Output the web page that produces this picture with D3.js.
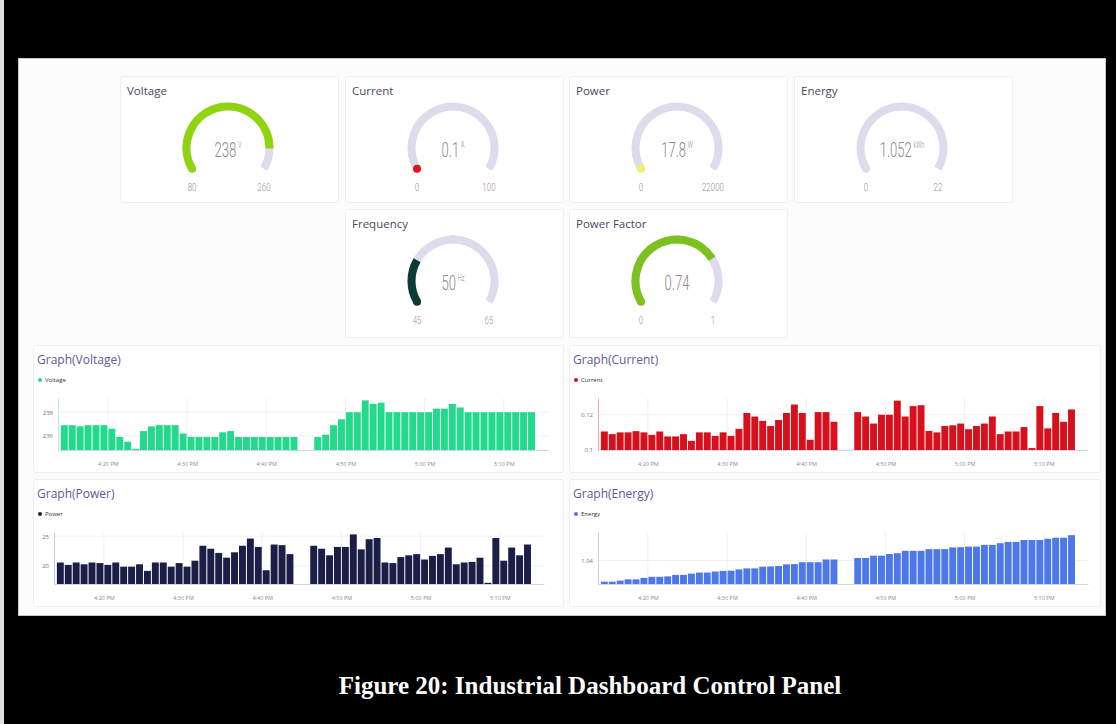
<!DOCTYPE html>
<html>
<head>
<meta charset="utf-8">
<script src="https://cdn.jsdelivr.net/npm/d3@7"></script>
<style>
  html, body { margin: 0; padding: 0; background: #000; }
  svg { display: block; font-family: "Open Sans", "Noto Sans", sans-serif; }
</style>
</head>
<body>
<svg id="dash" width="1116" height="724"></svg>
<script>
// Blynk-style power meter dashboard: 6 gauges + 4 minute bar charts.

// gauges
const gaugeTitles = ['Voltage', 'Current', 'Power', 'Energy', 'Frequency', 'Power Factor'];
const gaugeValues = [238, 0.1, 17.8, 1.052, 50, 0.74];
const gaugeMins   = [80, 0, 0, 0, 45, 0];
const gaugeMaxs   = [260, 100, 22000, 22, 65, 1];
const gaugeUnits  = ['V', 'A', 'W', 'kWh', 'Hz', ''];
const gaugeLabels = ['238', '0.1', '17.8', '1.052', '50', '0.74'];
const gaugeColors = ['#8fd40e', '#e8101c', '#eef06a', '#dcdcec', '#0d3a34', '#7dc11e'];

// x ticks of the graphs
const tickTimes = ['4:20 PM', '4:30 PM', '4:40 PM', '4:50 PM', '5:00 PM', '5:10 PM'];

// one value a minute, 4:14 PM .. 5:13 PM, no data at 4:44 and 4:45
const voltageValues = [236.9, 236.9, 236.8, 236.9, 236.9, 236.9, 236.6, 235.9, 235.5, 234.9,
  236.4, 236.8, 236.9, 236.9, 236.9, 236.2, 235.9, 235.9, 235.9, 235.9,
  236.3, 236.4, 235.9, 235.9, 235.9, 235.9, 235.9, 235.9, 235.9, 235.9,
  null, null,
  235.9, 236.1, 236.9, 237.4, 238, 238, 239, 238.7, 238.8, 238,
  238, 238, 238, 238, 238, 238.3, 238.3, 238.7, 238.4, 238,
  238, 238, 238, 238, 238, 238, 238, 238];
const currentValues = [0.1105, 0.109, 0.110, 0.110, 0.1107, 0.110, 0.1086, 0.1105, 0.1077, 0.1077,
  0.109, 0.1052, 0.110, 0.110, 0.108, 0.110, 0.108, 0.112, 0.121, 0.119,
  0.1165, 0.1136, 0.117, 0.121, 0.1258, 0.121, 0.1058, 0.1215, 0.1215, 0.116,
  null, null,
  0.1215, 0.119, 0.115, 0.120, 0.120, 0.128, 0.119, 0.1249, 0.1254, 0.1108,
  0.110, 0.1136, 0.114, 0.115, 0.1118, 0.1136, 0.115, 0.119, 0.109, 0.1105,
  0.1105, 0.113, 0.1011, 0.1249, 0.1123, 0.121, 0.116, 0.123];
const powerValues = [20.6, 20.2, 20.6, 20.3, 20.6, 20.5, 20.2, 20.6, 19.9, 19.9,
  20.3, 19.2, 20.6, 20.6, 19.9, 20.5, 19.9, 20.9, 23.4, 22.9,
  22.2, 21.4, 22.3, 23.4, 24.6, 23.2, 19.3, 23.6, 23.5, 22.0,
  null, null,
  23.4, 22.9, 21.8, 23.2, 23.2, 25.3, 22.8, 24.5, 24.7, 20.6,
  20.5, 21.5, 21.8, 22.0, 21.1, 21.7, 22.0, 23.1, 20.3, 20.6,
  20.7, 21.4, 17.2, 24.7, 20.9, 23.1, 21.8, 23.6];
const energyValues = [1.0300, 1.0300, 1.0305, 1.0311, 1.0311, 1.0318, 1.0323, 1.0323, 1.0325, 1.0332,
  1.0332, 1.0338, 1.0343, 1.0343, 1.0348, 1.0351, 1.0352, 1.0358, 1.0363, 1.0363,
  1.0371, 1.0372, 1.0374, 1.0382, 1.0383, 1.0392, 1.0392, 1.0392, 1.0405, 1.0405,
  null, null,
  1.0412, 1.0412, 1.0423, 1.0423, 1.0431, 1.0435, 1.0446, 1.0446, 1.0446, 1.0454,
  1.0454, 1.0454, 1.0462, 1.0463, 1.0466, 1.0466, 1.0474, 1.0474, 1.0482, 1.0488,
  1.0488, 1.0497, 1.0497, 1.0497, 1.0503, 1.0508, 1.0508, 1.0520];

const minutes = d3.timeMinute.range(new Date(2024, 0, 1, 16, 14), new Date(2024, 0, 1, 17, 14));

const svg = d3.select('#dash');

// screenshot frame
svg.append('rect').attr('x', 0).attr('y', 0).attr('width', 1116).attr('height', 724).attr('fill', '#000');
svg.append('rect').attr('x', 0).attr('y', 0).attr('width', 4).attr('height', 724).attr('fill', '#dedede');
svg.append('rect').attr('x', 18.5).attr('y', 58.5).attr('width', 1087).attr('height', 557)
  .attr('fill', '#fcfcfc').attr('stroke', '#c8c8c8');

function card(x, y, w, h) {
  const g = svg.append('g').attr('transform', `translate(${x},${y})`);
  g.append('rect').attr('x', 0.5).attr('y', 0.5).attr('width', w).attr('height', h)
    .attr('rx', 2).attr('fill', '#fff').attr('stroke', '#efeff1');
  return g;
}

// ---- gauges
const gaugePos = [[120, 76], [345, 76], [569, 76], [794, 76], [345, 209], [569, 209]];
const A0 = -2 * Math.PI / 3, A1 = 2 * Math.PI / 3;
const R = 41.5;
const thin = '"Roboto", "Open Sans", sans-serif';

gaugePos.forEach(([x, y], i) => {
  const g = card(x, y, 218, i < 4 ? 126 : 128);
  g.append('text').attr('x', 7).attr('y', 19).attr('font-size', 11.5).attr('fill', '#4d4562')
    .text(gaugeTitles[i]);

  const cx = 108, cy = 72;
  const ang = d3.scaleLinear().domain([gaugeMins[i], gaugeMaxs[i]]).range([A0, A1]).clamp(true);
  const arc = d3.arc().innerRadius(R).outerRadius(R);
  const gg = g.append('g').attr('transform', `translate(${cx},${cy})`);
  gg.append('path').attr('d', arc({ startAngle: A0, endAngle: A1 }))
    .attr('fill', 'none').attr('stroke', '#dcdcec').attr('stroke-width', 8).attr('stroke-linecap', 'round');
  const a = ang(gaugeValues[i]);
  if (a - A0 > 0.02) {
    gg.append('path').attr('d', arc({ startAngle: A0, endAngle: a }))
      .attr('fill', 'none').attr('stroke', gaugeColors[i]).attr('stroke-width', 8).attr('stroke-linecap', 'round');
  }
  // round start cap (also shows the near-zero readings as a dot)
  gg.append('circle').attr('cx', R * Math.sin(A0)).attr('cy', -R * Math.cos(A0)).attr('r', 4)
    .attr('fill', gaugeColors[i]);

  // value + unit, thin condensed look
  const vt = gg.append('text').attr('transform', 'translate(0,9) scale(0.62,1)')
    .attr('text-anchor', 'middle').style('font-family', thin).attr('font-weight', 300)
    .attr('font-size', 21).attr('fill', '#8e878b');
  vt.append('tspan').text(gaugeLabels[i]);
  if (gaugeUnits[i]) vt.append('tspan').attr('dx', 3).attr('dy', -9).attr('font-size', 9).text(gaugeUnits[i]);

  const ex = R * Math.sin(A1), ey = -R * Math.cos(A1);
  [[-ex, gaugeMins[i]], [ex, gaugeMaxs[i]]].forEach(([lx, v]) => {
    gg.append('text').attr('transform', `translate(${lx},${ey + 22}) scale(0.72,1)`)
      .attr('text-anchor', 'middle').style('font-family', thin).attr('font-weight', 300)
      .attr('font-size', 11).attr('fill', '#9a8f94').text(v);
  });
});

// ---- bar graphs
const graphs = [
  { x: 33, y: 345, w: 530, name: 'Voltage', color: '#22d98c', axis: '#b8eed6', ax: 25,
    values: voltageValues, domain: [234.8, 239.2], ticks: [236, 238], fmt: d3.format('d') },
  { x: 569, y: 345, w: 531, name: 'Current', color: '#d7101c', axis: '#f0a8b0', ax: 29,
    values: currentValues, domain: [0.1, 0.1295], ticks: [0.1, 0.12], fmt: d => String(+d.toFixed(2)) },
  { x: 33, y: 479, w: 530, name: 'Power', color: '#1b1f48', axis: '#c8c9da', ax: 21,
    values: powerValues, domain: [17.0, 25.7], ticks: [20, 25], fmt: d3.format('d') },
  { x: 569, y: 479, w: 531, name: 'Energy', color: '#4d78ea', axis: '#c9cff2', ax: 29,
    values: energyValues, domain: [1.0289, 1.0535], ticks: [1.04], fmt: d3.format('.2f') },
];

const tParse = d3.timeParse('%I:%M %p');
const day = d => new Date(2024, 0, 1, d.getHours(), d.getMinutes());
const tickDates = tickTimes.map(s => day(tParse(s)));

graphs.forEach((c) => {
  const g = card(c.x, c.y, c.w, 127);
  g.append('text').attr('x', 4).attr('y', 19).attr('font-size', 12).attr('fill', '#62589a')
    .text(`Graph(${c.name})`);
  g.append('circle').attr('cx', 7).attr('cy', 35).attr('r', 2).attr('fill', c.color);
  g.append('text').attr('x', 12).attr('y', 37).attr('font-size', 6).attr('fill', '#333').text(c.name);

  const top = 53, bottom = 105;
  const x = d3.scaleTime()
    .domain([new Date(2024, 0, 1, 16, 13, 42), new Date(2024, 0, 1, 17, 15, 35)])
    .range([c.ax, c.ax + 490]);
  const y = d3.scaleLinear().domain(c.domain).range([bottom, top]);

  // faint grid
  g.append('g').selectAll('line').data(tickDates).join('line')
    .attr('x1', d => x(d)).attr('x2', d => x(d)).attr('y1', top).attr('y2', bottom)
    .attr('stroke', '#f1f1f4');
  g.append('g').selectAll('line').data(c.ticks).join('line')
    .attr('x1', c.ax).attr('x2', c.ax + 490).attr('y1', d => y(d)).attr('y2', d => y(d))
    .attr('stroke', '#f1f1f4');

  const pitch = x(minutes[1]) - x(minutes[0]);
  g.append('g').selectAll('rect').data(minutes.map((t, i) => ({ t, v: c.values[i] })).filter(d => d.v != null))
    .join('rect')
    .attr('x', d => x(d.t) + 0.5)
    .attr('y', d => y(d.v))
    .attr('width', pitch - 1)
    .attr('height', d => bottom - y(d.v))
    .attr('fill', c.color);

  const xAxis = d3.axisBottom(x).tickValues(tickDates).tickFormat(d3.timeFormat('%-I:%M %p'))
    .tickSize(0).tickPadding(12);
  const xa = g.append('g').attr('transform', `translate(0,${bottom})`).call(xAxis);
  xa.select('.domain').attr('stroke', '#d2d3ee');
  xa.selectAll('text').attr('font-size', 5.5).attr('fill', '#8a8a9a').style('font-family', '"Open Sans", sans-serif');

  const yAxis = d3.axisLeft(y).tickValues(c.ticks).tickFormat(c.fmt).tickSize(0).tickPadding(5);
  const ya = g.append('g').attr('transform', `translate(${c.ax},0)`).call(yAxis);
  ya.select('.domain').attr('stroke', c.axis);
  ya.selectAll('text').attr('font-size', 6).attr('fill', '#777').style('font-family', '"Open Sans", sans-serif');
});

// caption
svg.append('text').attr('x', 590).attr('y', 694).attr('text-anchor', 'middle')
  .style('font-family', '"Liberation Serif", "Times New Roman", serif').attr('font-weight', 'bold')
  .attr('font-size', 25).attr('fill', '#fff')
  .text('Figure 20: Industrial Dashboard Control Panel');
</script>
</body>
</html>
